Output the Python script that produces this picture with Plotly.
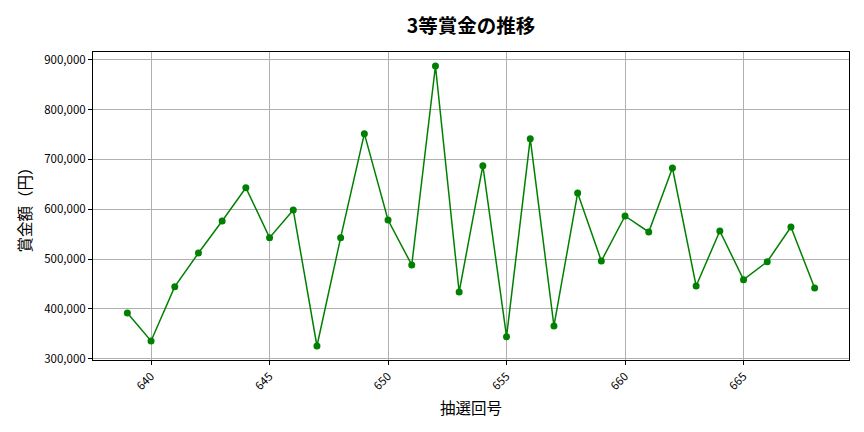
import plotly.graph_objects as go

draws = list(range(639, 669))
prizes = [391600, 335500, 444500, 512000, 576300, 643100, 542800, 598300, 325400, 542800,
          751500, 578300, 488000, 887300, 433800, 687300, 344100, 741500, 365600, 632400,
          496000, 586300, 554200, 682600, 445800, 556200, 458500, 494600, 564200, 441800]

FONT = "Noto Sans CJK JP"

fig = go.Figure()
fig.add_trace(go.Scatter(
    x=draws, y=prizes, mode="lines+markers",
    line=dict(color="green", width=1.5),
    marker=dict(color="green", size=7),
))

xpad = (max(draws) - min(draws)) * 0.05
ymin, ymax = min(prizes), max(prizes)
ypad = (ymax - ymin) * 0.05

fig.update_layout(
    width=864, height=432,
    paper_bgcolor="white", plot_bgcolor="white",
    margin=dict(l=93, r=15, t=52, b=72, autoexpand=False),
    showlegend=False,
    font=dict(family=FONT, color="black", size=11),
    title=dict(text="3等賞金の推移", xref="paper", x=0.5, xanchor="center",
               yref="container", y=0.94, yanchor="middle",
               font=dict(family=FONT, size=19.5, color="black", weight="bold")),
)
fig.update_xaxes(
    automargin=False,
    range=[min(draws) - xpad, max(draws) + xpad],
    tickmode="array", tickvals=[640, 645, 650, 655, 660, 665],
    ticktext=["640", "645", "650", "655", "660", "665"],
    tickangle=-45, ticks="outside", ticklen=4, tickcolor="black",
    showline=True, linecolor="black", linewidth=1, mirror=True,
    showgrid=True, gridcolor="#b0b0b0", gridwidth=0.8, zeroline=False,
    title=dict(text="抽選回号", font=dict(size=15.5), standoff=11),
    tickfont=dict(size=11.5),
)
fig.update_yaxes(
    automargin=False,
    range=[ymin - ypad, ymax + ypad],
    tickmode="array", tickvals=[300000, 400000, 500000, 600000, 700000, 800000, 900000],
    tickformat=",d",
    ticks="outside", ticklen=4, tickcolor="black",
    showline=True, linecolor="black", linewidth=1, mirror=True,
    showgrid=True, gridcolor="#b0b0b0", gridwidth=0.8, zeroline=False,
    title=dict(text="賞金額（円）", font=dict(size=15.5), standoff=8),
    tickfont=dict(size=11.5),
)

fig.write_html("out.html", config={"displayModeBar": False},
               post_script="document.body.style.margin='0';")
